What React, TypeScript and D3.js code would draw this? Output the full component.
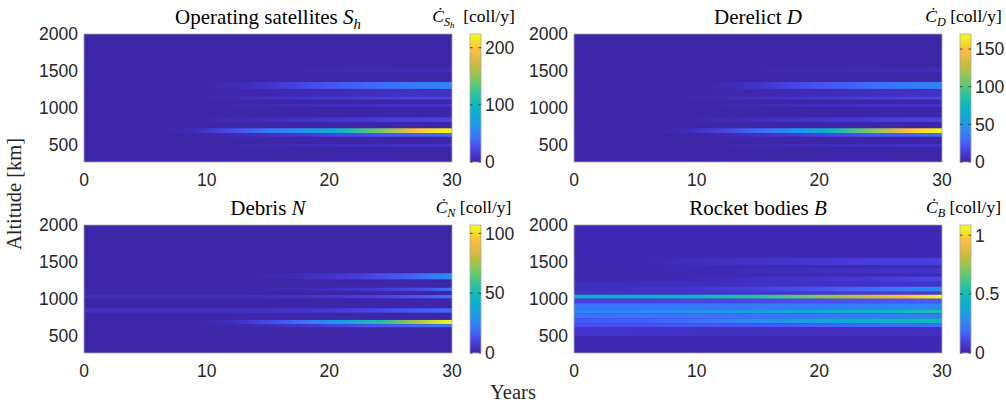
import React from "react";
import * as d3 from "d3";

// ---------- data ----------
const years = [0, 3, 6, 9, 12, 15, 18, 21, 24, 27, 30];
const altDomain = [265, 2000];
const yTicks = [500, 1000, 1500, 2000];
const xTicks = [0, 10, 20, 30];

type Band = { lo: number; hi: number; v: number[] };

const satBands: Band[] = [
  { lo: 1485, hi: 1549, v: [0, 0, 0, 0, 0, 1, 2, 3, 4, 5, 6] },
  { lo: 1255, hi: 1350, v: [0, 0, 0, 0, 3, 11, 22, 32, 40, 47, 52] },
  { lo: 1160, hi: 1255, v: [0, 0, 0, 0, 1, 2, 4, 5, 7, 8, 9] },
  { lo: 1112, hi: 1153, v: [0, 0, 0, 1, 4, 8, 12, 15, 18, 20, 22] },
  { lo: 1011, hi: 1051, v: [0, 0, 0, 0, 2, 4, 6, 8, 9, 10, 11] },
  { lo: 808, hi: 869, v: [0, 0, 0, 1, 3, 6, 10, 13, 16, 18, 20] },
  { lo: 658, hi: 722, v: [0, 0, 0, 5, 25, 45, 65, 95, 140, 198, 224] },
  { lo: 608, hi: 658, v: [0, 0, 0, 0, 3, 8, 15, 22, 28, 34, 40] },
  { lo: 469, hi: 509, v: [0, 0, 0, 0, 2, 3, 5, 7, 8, 10, 11] },
];

const derelictBands: Band[] = [
  { lo: 1485, hi: 1549, v: [0, 0, 0, 0, 0, 1, 2, 2, 3, 4, 5] },
  { lo: 1255, hi: 1350, v: [0, 0, 0, 0, 2, 8, 16, 24, 30, 35, 39] },
  { lo: 1160, hi: 1255, v: [0, 0, 0, 0, 1, 2, 3, 4, 5, 6, 7] },
  { lo: 1112, hi: 1153, v: [0, 0, 0, 1, 3, 6, 9, 11, 14, 15, 17] },
  { lo: 1011, hi: 1051, v: [0, 0, 0, 0, 1, 3, 5, 6, 7, 8, 8] },
  { lo: 808, hi: 869, v: [0, 0, 0, 1, 2, 5, 8, 10, 12, 14, 15] },
  { lo: 658, hi: 722, v: [0, 0, 0, 3, 15, 30, 48, 72, 108, 148, 170] },
  { lo: 608, hi: 658, v: [0, 0, 0, 0, 2, 6, 11, 17, 22, 26, 31] },
  { lo: 469, hi: 509, v: [0, 0, 0, 0, 1, 2, 4, 5, 6, 7, 8] },
];

const debrisBands: Band[] = [
  { lo: 1264, hi: 1346, v: [0, 0, 0, 0, 0, 1, 3, 6, 11, 18, 29] },
  { lo: 1106, hi: 1150, v: [0, 0, 0, 0, 0, 1, 2, 4, 7, 11, 19] },
  { lo: 1007, hi: 1051, v: [3, 3, 3, 3, 3, 4, 5, 7, 10, 14, 20] },
  { lo: 812, hi: 871, v: [4, 4, 4, 4, 4, 5, 6, 8, 11, 15, 19] },
  { lo: 654, hi: 713, v: [0, 0, 0, 0, 3, 11, 21, 34, 52, 75, 107] },
  { lo: 614, hi: 654, v: [0, 0, 0, 0, 1, 3, 6, 10, 14, 18, 22] },
];

const rocketBands: Band[] = [
  { lo: 1458, hi: 1553, v: [0.01, 0.01, 0.02, 0.03, 0.04, 0.05, 0.06, 0.07, 0.08, 0.08, 0.09] },
  { lo: 1346, hi: 1413, v: [0.01, 0.01, 0.01, 0.02, 0.02, 0.03, 0.03, 0.04, 0.04, 0.05, 0.05] },
  { lo: 1232, hi: 1300, v: [0.01, 0.01, 0.02, 0.02, 0.03, 0.04, 0.05, 0.06, 0.07, 0.09, 0.11] },
  { lo: 1164, hi: 1232, v: [0.03, 0.03, 0.03, 0.03, 0.03, 0.04, 0.04, 0.04, 0.05, 0.05, 0.05] },
  { lo: 1096, hi: 1164, v: [0.03, 0.03, 0.04, 0.05, 0.07, 0.09, 0.12, 0.15, 0.19, 0.23, 0.28] },
  { lo: 1055, hi: 1096, v: [0.05, 0.05, 0.05, 0.05, 0.05, 0.06, 0.06, 0.06, 0.07, 0.07, 0.07] },
  { lo: 1001, hi: 1055, v: [0.42, 0.43, 0.45, 0.47, 0.51, 0.57, 0.65, 0.74, 0.84, 0.95, 1.08] },
  { lo: 939, hi: 1001, v: [0.09, 0.09, 0.09, 0.1, 0.1, 0.11, 0.12, 0.13, 0.14, 0.15, 0.16] },
  { lo: 858, hi: 939, v: [0.22, 0.22, 0.22, 0.22, 0.22, 0.23, 0.23, 0.24, 0.25, 0.26, 0.27] },
  { lo: 804, hi: 858, v: [0.26, 0.27, 0.28, 0.3, 0.32, 0.35, 0.38, 0.42, 0.46, 0.5, 0.54] },
  { lo: 736, hi: 804, v: [0.2, 0.2, 0.2, 0.2, 0.2, 0.21, 0.21, 0.22, 0.22, 0.23, 0.23] },
  { lo: 668, hi: 736, v: [0.15, 0.16, 0.17, 0.19, 0.23, 0.28, 0.33, 0.38, 0.42, 0.46, 0.5] },
  { lo: 614, hi: 668, v: [0.13, 0.13, 0.13, 0.14, 0.14, 0.15, 0.16, 0.17, 0.18, 0.19, 0.2] },
  { lo: 500, hi: 614, v: [0.06, 0.055, 0.05, 0.045, 0.04, 0.04, 0.035, 0.035, 0.035, 0.035, 0.035] },
];

const panelBands = [satBands, derelictBands, debrisBands, rocketBands];
const bgValues = [0, 0, 0, 0.02];
const cbMax = [224, 170, 107, 1.087];
const cbTicks = [[0, 100, 200], [0, 50, 100, 150], [0, 50, 100], [0, 0.5, 1]];

type Part = { t: string; it?: boolean; sub?: number };
const titles: Part[][] = [
  [{ t: "Operating satellites " }, { t: "S", it: true }, { t: "h", it: true, sub: 1 }],
  [{ t: "Derelict " }, { t: "D", it: true }],
  [{ t: "Debris " }, { t: "N", it: true }],
  [{ t: "Rocket bodies " }, { t: "B", it: true }],
];
const cbLabels: Part[][] = [
  [{ t: "Ċ", it: true }, { t: "S", it: true, sub: 1 }, { t: "h", it: true, sub: 2 }, { t: "  [coll/y]" }],
  [{ t: "Ċ", it: true }, { t: "D", it: true, sub: 1 }, { t: " [coll/y]" }],
  [{ t: "Ċ", it: true }, { t: "N", it: true, sub: 1 }, { t: " [coll/y]" }],
  [{ t: "Ċ", it: true }, { t: "B", it: true, sub: 1 }, { t: " [coll/y]" }],
];

// parula colormap anchors
const parulaAnchors = [
  [0.2422, 0.1504, 0.6603], [0.2700, 0.2150, 0.8350], [0.2810, 0.3228, 0.9579],
  [0.2300, 0.4450, 0.9920], [0.1700, 0.5450, 0.9550], [0.1000, 0.6200, 0.8950],
  [0.0400, 0.6800, 0.8300], [0.0400, 0.7200, 0.7500], [0.1300, 0.7500, 0.6600],
  [0.2400, 0.7800, 0.5500], [0.4200, 0.7900, 0.4100], [0.6000, 0.7750, 0.3000],
  [0.7600, 0.7450, 0.2300], [0.8900, 0.7300, 0.2600], [0.9900, 0.7400, 0.2400],
  [0.9600, 0.8800, 0.1400], [0.9769, 0.9839, 0.0805],
];

// ---------- layout ----------
const W = 1006, H = 407;
const colX = [84, 574];
const rowY = [34, 225];
const PW = 368, PH = 128;
const CB_GAP = 18, CB_W = 11;
const sansFont = "'Liberation Sans', Arial, Helvetica, sans-serif";
const serifFont = "'Liberation Serif', 'Times New Roman', serif";
const tickColor = "#262626";

const parulaColors = parulaAnchors.map(([r, g, b]) => d3.rgb(r * 255, g * 255, b * 255).formatHex());
const parula = d3.piecewise(d3.interpolateRgb, parulaColors);

function MathText({ parts, x, y, size, anchor }: { parts: Part[]; x: number; y: number; size: number; anchor: string }) {
  let level = 0;
  const nodes: React.ReactNode[] = [];
  const off = (l: number) => (l === 0 ? 0 : l === 1 ? size * 0.22 : size * 0.36);
  parts.forEach((p, i) => {
    const target = p.sub || 0;
    const dy = off(target) - off(level);
    level = target;
    const fs = target === 0 ? size : target === 1 ? size * 0.7 : size * 0.5;
    nodes.push(
      <tspan key={i} dy={dy} fontStyle={p.it ? "italic" : "normal"} fontSize={fs}>
        {p.t}
      </tspan>
    );
  });
  return (
    <text x={x} y={y} textAnchor={anchor} fontFamily={serifFont} fontSize={size} fill="#000" style={{ whiteSpace: "pre" }}>
      {nodes}
    </text>
  );
}

function Panel({ idx }: { idx: number }) {
  const x0 = colX[idx % 2];
  const y0 = rowY[Math.floor(idx / 2)];
  const x = d3.scaleLinear().domain([0, 30]).range([x0, x0 + PW]);
  const y = d3.scaleLinear().domain(altDomain).range([y0 + PH, y0]);
  const c = d3.scaleLinear().domain([0, cbMax[idx]]).range([0, 1]).clamp(true);
  const color = (v: number) => parula(c(v));
  const bands = panelBands[idx];
  const cbX = x0 + PW + CB_GAP;
  const cy = d3.scaleLinear().domain([0, cbMax[idx]]).range([y0 + PH, y0]);
  const clipId = `clip${idx}`;
  return (
    <g>
      <defs>
        <clipPath id={clipId}>
          <rect x={x0} y={y0} width={PW} height={PH} />
        </clipPath>
        <filter id={`blur${idx}`} x="-5%" y="-5%" width="110%" height="110%">
          <feGaussianBlur stdDeviation="0.4 0.5" />
        </filter>
        {bands.map((b, bi) => (
          <linearGradient key={bi} id={`g${idx}_${bi}`} gradientUnits="userSpaceOnUse" x1={x(0)} x2={x(30)} y1={0} y2={0}>
            {years.map((yr, k) => (
              <stop key={k} offset={yr / 30} stopColor={color(b.v[k])} />
            ))}
          </linearGradient>
        ))}
        <linearGradient id={`cb${idx}`} x1={0} y1={1} x2={0} y2={0}>
          {parulaColors.map((col, k) => (
            <stop key={k} offset={k / (parulaColors.length - 1)} stopColor={col} />
          ))}
        </linearGradient>
      </defs>
      <rect x={x0} y={y0} width={PW} height={PH} fill={color(bgValues[idx])} />
      <g clipPath={`url(#${clipId})`}>
        <g filter={`url(#blur${idx})`}>
          <rect x={x0 - 4} y={y0 - 4} width={PW + 8} height={PH + 8} fill={color(bgValues[idx])} />
          {bands.map((b, bi) => (
            <rect key={bi} x={x(0) - 4} y={y(b.hi)} width={x(30) - x(0) + 8} height={y(b.lo) - y(b.hi)} fill={`url(#g${idx}_${bi})`} />
          ))}
        </g>
      </g>
      <rect x={x0} y={y0} width={PW} height={PH} fill="none" stroke="#a8a8a8" strokeWidth={0.8} />
      {yTicks.map((t) => (
        <text key={t} x={x0 - 6} y={y(t)} dy="0.36em" textAnchor="end" fontFamily={sansFont} fontSize={17.5} fill={tickColor}>
          {t}
        </text>
      ))}
      {xTicks.map((t) => (
        <text key={t} x={x(t)} y={y0 + PH + 24} textAnchor="middle" fontFamily={sansFont} fontSize={17.5} fill={tickColor}>
          {t}
        </text>
      ))}
      <rect x={cbX} y={y0} width={CB_W} height={PH} fill={`url(#cb${idx})`} stroke="#a8a8a8" strokeWidth={0.8} />
      {cbTicks[idx].map((t) => (
        <g key={t}>
          <line x1={cbX} x2={cbX + 2.5} y1={cy(t)} y2={cy(t)} stroke={tickColor} strokeWidth={0.8} />
          <line x1={cbX + CB_W - 2.5} x2={cbX + CB_W} y1={cy(t)} y2={cy(t)} stroke={tickColor} strokeWidth={0.8} />
          <text x={cbX + CB_W + 4} y={cy(t)} dy="0.36em" textAnchor="start" fontFamily={sansFont} fontSize={17.5} fill={tickColor}>
            {t}
          </text>
        </g>
      ))}
      <MathText parts={titles[idx]} x={x0 + PW / 2} y={y0 - 10} size={21} anchor="middle" />
      <MathText parts={cbLabels[idx]} x={cbX + CB_W / 2 - 2} y={y0 - 12} size={17.5} anchor="middle" />
    </g>
  );
}

export default function App() {
  return (
    <svg width={W} height={H} viewBox={`0 0 ${W} ${H}`} style={{ position: "absolute", left: 0, top: 0, background: "#fff" }}>
      {[0, 1, 2, 3].map((i) => (
        <Panel key={i} idx={i} />
      ))}
      <text x={0} y={0} transform={`translate(21,194) rotate(-90)`} textAnchor="middle" fontFamily={serifFont} fontSize={20.5} fill="#262626">
        Altitude [km]
      </text>
      <text x={513} y={399} textAnchor="middle" fontFamily={serifFont} fontSize={20.5} fill="#262626">
        Years
      </text>
    </svg>
  );
}
